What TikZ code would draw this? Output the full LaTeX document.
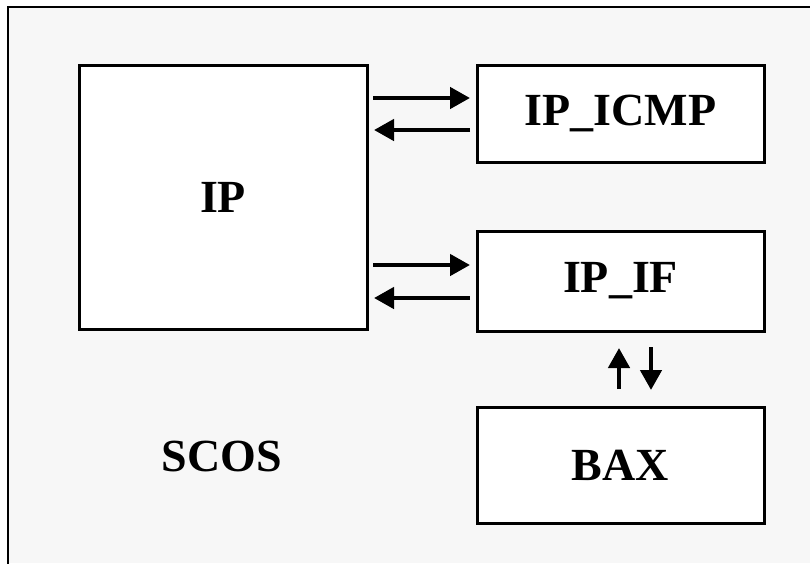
\documentclass[tikz,border=0pt]{standalone}
\usepackage{fontspec}
\setmainfont{Liberation Serif}
\usetikzlibrary{arrows.meta}
\begin{document}
\begin{tikzpicture}[x=1pt,y=-1pt,
  blk/.style={draw=black,line width=3pt,fill=white,rectangle,outer sep=0pt,inner sep=0pt,
    font=\fontsize{46}{50}\selectfont\bfseries},
  lbl/.style={font=\fontsize{46}{50}\selectfont\bfseries,inner sep=0pt},
  arr/.style={line width=4.5pt,-{Triangle[length=20pt,width=21pt]}},
  frameline/.style={line width=2.5pt,line cap=rect}]
\useasboundingbox (0,0) rectangle (810,563);
\fill[black!3] (8,7) rectangle (810,563);
\draw[frameline] (8,570) -- (8,7) -- (820,7);
% boxes
\node[blk,minimum width=288pt,minimum height=264pt] (IP) at (223,197) {IP};
\node[blk,minimum width=287pt,minimum height=97pt] (ICMP) at (620.5,113.5) {IP\_ICMP};
\node[blk,minimum width=287pt,minimum height=100pt] (IF) at (620.5,281) {IP\_IF};
\node[blk,minimum width=287pt,minimum height=116pt] (BAX) at (620.5,465) {BAX};
\node[lbl] (SCOS) at (222,456) {SCOS};
% arrows IP <-> IP_ICMP
\draw[arr] ([xshift=-104pt,yshift=15.5pt]ICMP.west) -- ([xshift=-7pt,yshift=15.5pt]ICMP.west);
\draw[arr] ([xshift=-7pt,yshift=-16.5pt]ICMP.west) -- ([xshift=-103pt,yshift=-16.5pt]ICMP.west);
% arrows IP <-> IP_IF
\draw[arr] ([xshift=-104pt,yshift=16pt]IF.west) -- ([xshift=-7pt,yshift=16pt]IF.west);
\draw[arr] ([xshift=-7pt,yshift=-17pt]IF.west) -- ([xshift=-103pt,yshift=-17pt]IF.west);
% arrows IP_IF <-> BAX
\draw[arr] ([xshift=-1.5pt,yshift=18pt]BAX.north) -- ([xshift=-1.5pt,yshift=-17pt]IF.south);
\draw[arr] ([xshift=30.5pt,yshift=-16pt]IF.south) -- ([xshift=30.5pt,yshift=17pt]BAX.north);
\end{tikzpicture}
\end{document}
